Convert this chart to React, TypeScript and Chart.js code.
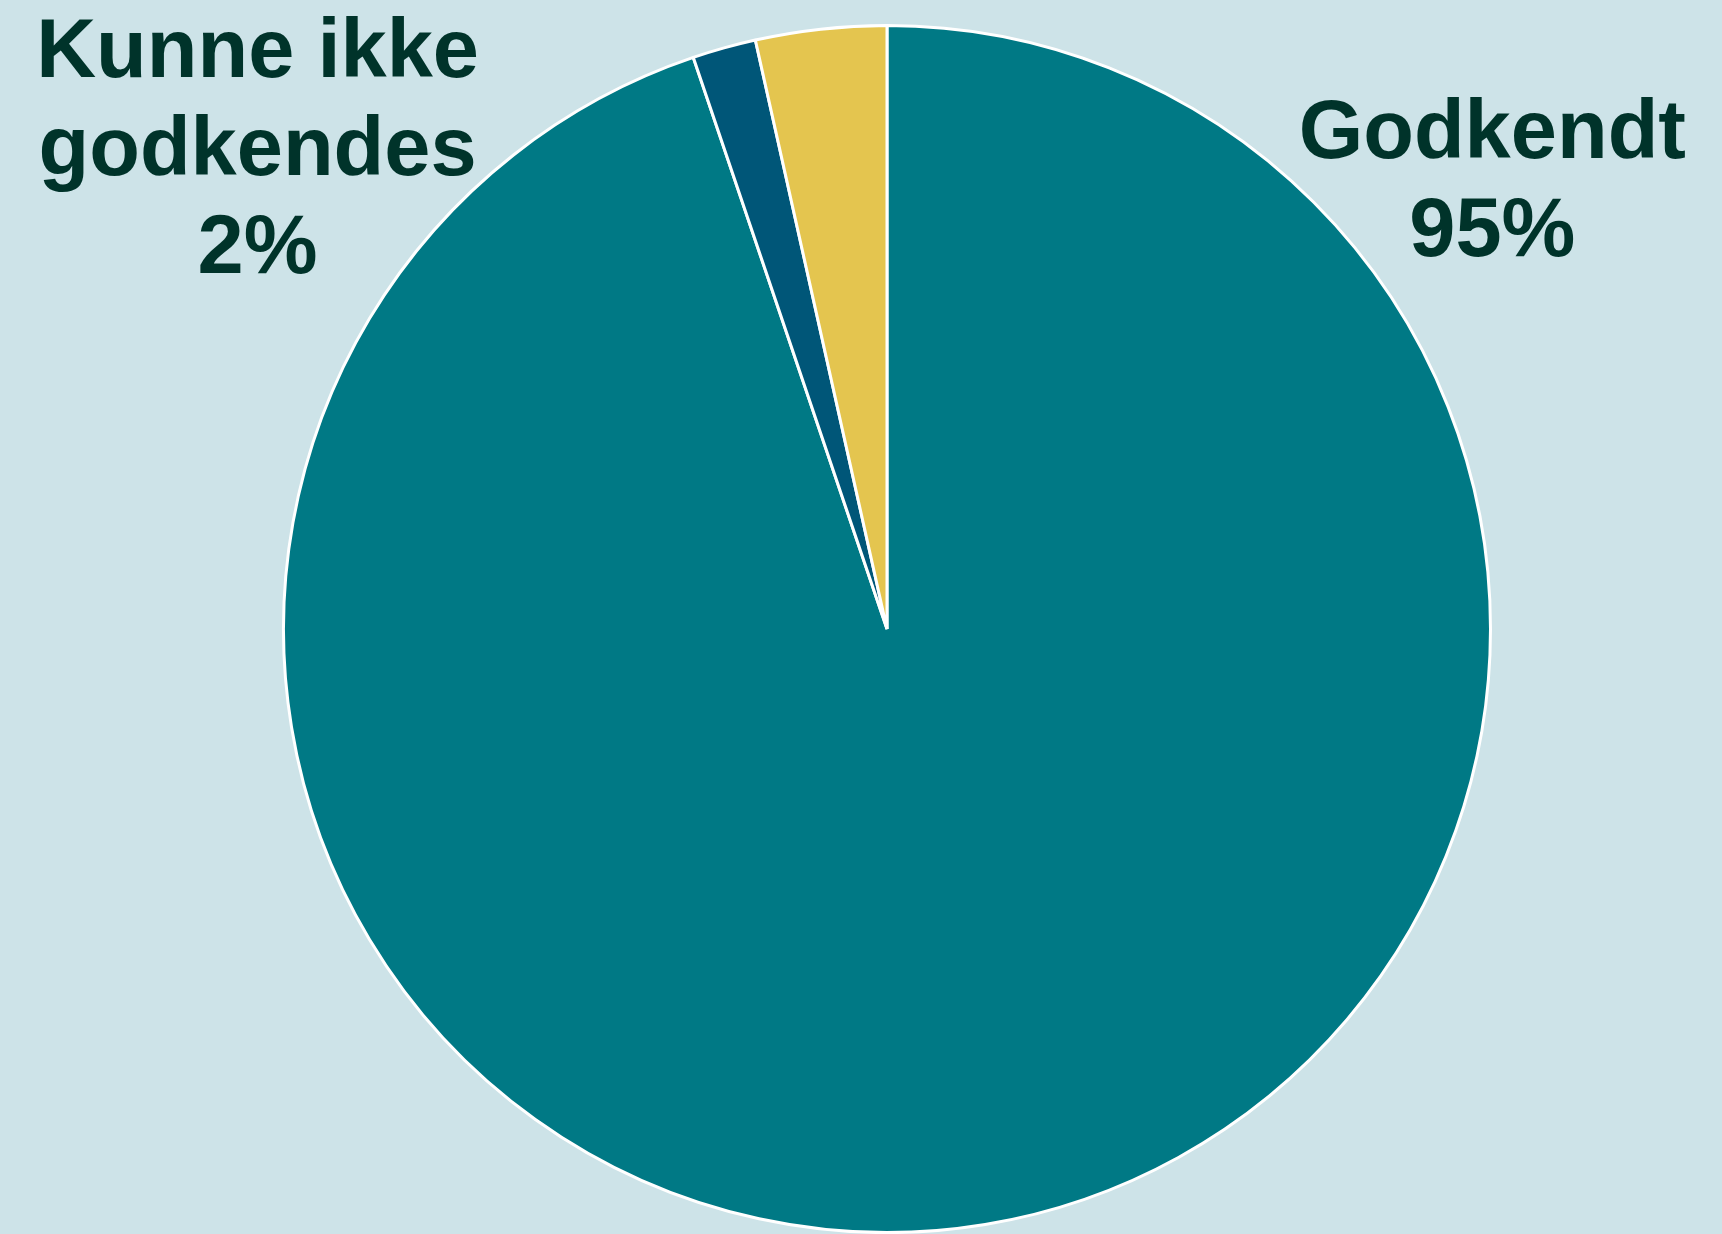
import React, { useEffect, useRef } from "react";
import { Chart, registerables } from "chart.js";

Chart.register(...registerables);

const categories = ["Godkendt", "Kunne ikke godkendes", "Øvrige"];
const values = [94.8, 1.7, 3.5];
const sliceColors = ["#007985", "#005678", "#e4c54f"];
const labelLines = [["Godkendt", "95%"], ["Kunne ikke", "godkendes", "2%"]];

const BG = "#cde3e8";
const TEXT = "#00332a";

// label anchor offsets relative to pie centre, in units of radius
const labelAnchors = [
  { dx: 1.003, dy: -0.78 },
  { dx: -1.043, dy: -0.915 },
];

const labelPlugin = {
  id: "pieLabels",
  afterDraw(chart: any) {
    const meta = chart.getDatasetMeta(0);
    const arc = meta.data[0];
    if (!arc) return;
    const { x, y, outerRadius } = arc.getProps(["x", "y", "outerRadius"], true);
    const ctx = chart.ctx;
    ctx.save();
    ctx.fillStyle = TEXT;
    ctx.font = "bold 83px 'Liberation Sans', Arial, sans-serif";
    ctx.textAlign = "center";
    ctx.textBaseline = "alphabetic";
    labelLines.forEach((lines, i) => {
      const a = labelAnchors[i];
      const cx = x + a.dx * outerRadius;
      const by = y + a.dy * outerRadius;
      lines.forEach((line, j) => {
        ctx.fillText(line, cx, by + j * 98);
      });
    });
    ctx.restore();
  },
};

export default function App() {
  const ref = useRef<HTMLCanvasElement | null>(null);
  useEffect(() => {
    document.body.style.margin = "0";
    document.body.style.background = BG;
    const canvas = ref.current!;
    const chart = new Chart(canvas, {
      type: "pie",
      data: {
        labels: categories,
        datasets: [
          {
            data: values,
            backgroundColor: sliceColors,
            borderColor: "#ffffff",
            borderWidth: 3,
          },
        ],
      },
      options: {
        responsive: false,
        animation: false,
        layout: { padding: { top: 24, bottom: 0, left: 52, right: 0 } },
        plugins: {
          legend: { display: false },
          tooltip: { enabled: false },
          title: { display: false },
        },
      },
      plugins: [labelPlugin],
    });
    return () => chart.destroy();
  }, []);
  return (
    <div style={{ width: 1722, height: 1234, background: BG }}>
      <canvas ref={ref} width={1722} height={1234} style={{ display: "block" }} />
    </div>
  );
}
